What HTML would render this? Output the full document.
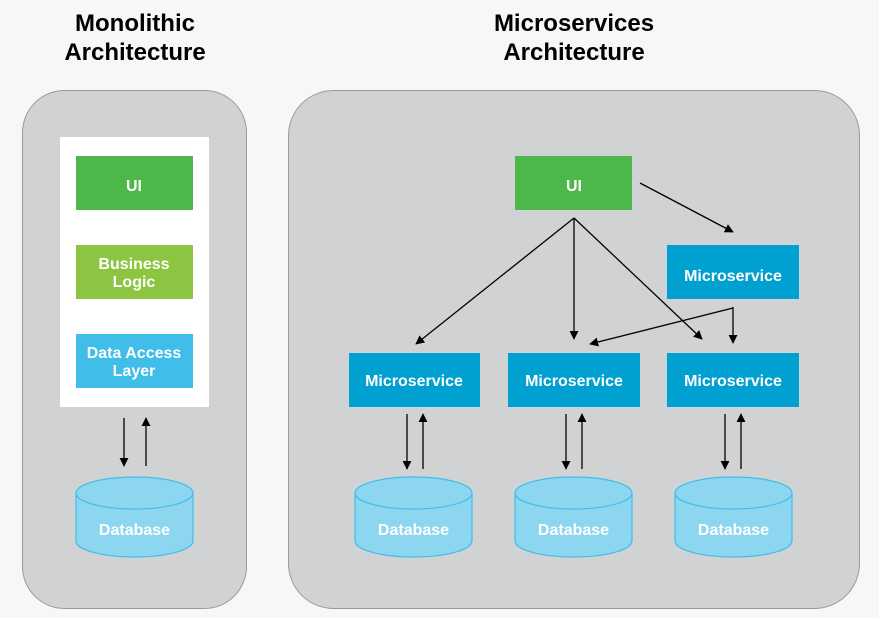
<!DOCTYPE html>
<html><head><meta charset="utf-8"><style>
html,body{margin:0;padding:0;background:#f7f7f7;}
svg{display:block;}
text{font-family:"Liberation Sans",sans-serif;font-weight:bold;}
</style></head><body>
<svg width="879" height="618" viewBox="0 0 879 618" xmlns="http://www.w3.org/2000/svg">
<defs>
<marker id="a" viewBox="0 0 10 10" refX="9" refY="5" markerWidth="9" markerHeight="9" markerUnits="userSpaceOnUse" orient="auto">
<path d="M0,0 L10,5 L0,10 z" fill="#000"/></marker>
</defs>
<g font-size="24" fill="#000" text-anchor="middle">
<text x="135" y="31">Monolithic</text>
<text x="135" y="60">Architecture</text>
<text x="574" y="31">Microservices</text>
<text x="574" y="60">Architecture</text>
</g>
<rect x="22.5" y="90.5" width="224" height="518" rx="42" fill="#d1d2d4" stroke="#9a9a9a"/>
<rect x="288.5" y="90.5" width="571" height="518" rx="45" fill="#d1d2d4" stroke="#9a9a9a"/>
<rect x="60" y="137" width="149" height="270" fill="#fff"/>
<rect x="76" y="156" width="117" height="54" fill="#4db74a"/>
<rect x="76" y="245" width="117" height="54" fill="#8dc543"/>
<rect x="76" y="334" width="117" height="54" fill="#40bee9"/>
<g fill="#fff" font-size="16" text-anchor="middle">
<text x="134" y="191">UI</text>
<text x="134" y="269">Business</text>
<text x="134" y="287">Logic</text>
<text x="134" y="358">Data Access</text>
<text x="134" y="376">Layer</text>
</g>
<rect x="515" y="156" width="117" height="54" fill="#4db74a"/>
<text x="574" y="191" fill="#fff" font-size="16" text-anchor="middle">UI</text>
<g fill="#00a0d1">
<rect x="667" y="245" width="132" height="54"/>
<rect x="349" y="353" width="131" height="54"/>
<rect x="508" y="353" width="132" height="54"/>
<rect x="667" y="353" width="132" height="54"/>
</g>
<g fill="#fff" font-size="16" text-anchor="middle">
<text x="733" y="281">Microservice</text>
<text x="414" y="386">Microservice</text>
<text x="574" y="386">Microservice</text>
<text x="733" y="386">Microservice</text>
</g>
<g stroke="#000" stroke-width="1.3" fill="none" marker-end="url(#a)">
<line x1="640" y1="183" x2="733" y2="232"/>
<line x1="574" y1="218" x2="416" y2="344"/>
<line x1="574" y1="218" x2="574" y2="339"/>
<line x1="574" y1="218" x2="702" y2="339"/>
<polyline points="733,307 733,343"/>
<line x1="733" y1="308" x2="590" y2="344"/>
<line x1="124" y1="418" x2="124" y2="466"/>
<line x1="146" y1="466" x2="146" y2="418"/>
<line x1="407" y1="414" x2="407" y2="469"/>
<line x1="423" y1="469" x2="423" y2="414"/>
<line x1="566" y1="414" x2="566" y2="469"/>
<line x1="582" y1="469" x2="582" y2="414"/>
<line x1="725" y1="414" x2="725" y2="469"/>
<line x1="741" y1="469" x2="741" y2="414"/>
</g>
<g stroke="#40bee9" stroke-width="1.2" fill="#8dd6f0">
<path d="M76,493 V541 A58.5,16 0 0 0 193,541 V493"/><ellipse cx="134.5" cy="493" rx="58.5" ry="16"/>
<path d="M355,493 V541 A58.5,16 0 0 0 472,541 V493"/><ellipse cx="413.5" cy="493" rx="58.5" ry="16"/>
<path d="M515,493 V541 A58.5,16 0 0 0 632,541 V493"/><ellipse cx="573.5" cy="493" rx="58.5" ry="16"/>
<path d="M675,493 V541 A58.5,16 0 0 0 792,541 V493"/><ellipse cx="733.5" cy="493" rx="58.5" ry="16"/>
</g>
<g fill="#fff" font-size="16" text-anchor="middle">
<text x="134.5" y="535">Database</text>
<text x="413.5" y="535">Database</text>
<text x="573.5" y="535">Database</text>
<text x="733.5" y="535">Database</text>
</g>
</svg>
</body></html>
